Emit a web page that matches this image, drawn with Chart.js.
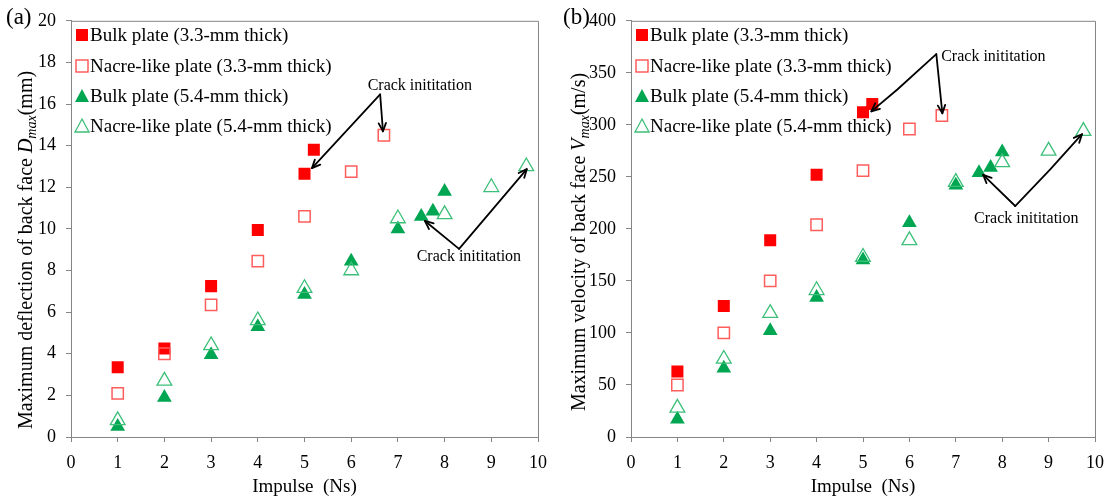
<!DOCTYPE html>
<html>
<head>
<meta charset="utf-8">
<script src="https://cdn.jsdelivr.net/npm/chart.js@4.4.1/dist/chart.umd.min.js"></script>
<style>
  html, body { margin: 0; padding: 0; background: #fff; }
  #wrap { position: relative; width: 1114px; height: 502px; }
  .panel { position: absolute; top: 0; width: 557px; height: 502px; }
</style>
</head>
<body>
<div id="wrap">
  <div class="panel" style="left:0"><canvas id="chartA"></canvas></div>
  <div class="panel" style="left:557px"><canvas id="chartB"></canvas></div>
</div>
<script>
// impulse (Ns) for each plate series
const impulseBulk33 = [1, 2, 3, 4, 5, 5.2];
const impulseNacre33 = [1, 2, 3, 4, 5, 6, 6.7];
const impulseBulk54 = [1, 2, 3, 4, 5, 6, 7, 7.5, 7.75, 8];
const impulseNacre54 = [1, 2, 3, 4, 5, 6, 7, 8, 9, 9.75];

// max back-face deflection (mm)
const deflBulk33 = [3.35, 4.25, 7.25, 9.95, 12.65, 13.8];
const deflNacre33 = [2.1, 4.0, 6.35, 8.45, 10.6, 12.75, 14.5];
const deflBulk54 = [0.5, 1.9, 3.95, 5.3, 6.85, 8.45, 10.0, 10.6, 10.85, 11.8];
const deflNacre54 = [0.8, 2.7, 4.4, 5.6, 7.15, 8.0, 10.5, 10.7, 12.0, 13.0];

// max back-face velocity (m/s)
const velBulk33 = [63, 126, 189, 252, 312, 320];
const velNacre33 = [50, 100, 150, 204, 256, 296, 309];
const velBulk54 = [17, 66, 102, 134, 170, 206, 242, 254, 259, 274];
const velNacre54 = [28, 75, 119, 141, 173, 189, 245, 264, 275, 294];

const seriesLabels = [
  'Bulk plate (3.3-mm thick)',
  'Nacre-like plate (3.3-mm thick)',
  'Bulk plate (5.4-mm thick)',
  'Nacre-like plate (5.4-mm thick)'
];

const noteText = 'Crack inititation';
// crack notes: label point, then arrow paths (from the fork to the head) in data units
const crackNotesDefl = [
  { at: [7.47, 16.9], paths: [[[6.62, 16.46], [5.16, 12.92]], [[6.62, 16.46], [6.68, 14.69]]] },
  { at: [8.52, 8.66], paths: [[[8.31, 9.04], [7.58, 10.38]], [[8.31, 9.04], [9.76, 12.87]]] }
];
const crackNotesVel = [
  { at: [7.81, 365], paths: [[[6.58, 368], [5.74, 334], [5.18, 313]], [[6.58, 368], [6.71, 311]]] },
  { at: [8.52, 210], paths: [[[8.28, 222], [7.59, 252]], [[8.28, 222], [9.03, 257], [9.72, 291]]] }
];

const RED = '#ff0000';
const RED_OPEN = '#ff5c5c';
const GREEN = '#00a651';
const GREEN_OPEN = '#3cbf78';
const AXIS_GREY = '#858585';
const INK = '#000';
const SERIF = '"Liberation Serif", "Times New Roman", serif';

function pts(xs, ys) {
  return xs.map((x, i) => ({ x: x, y: ys[i] }));
}

function buildDatasets(b33, n33, b54, n54) {
  return [
    { label: seriesLabels[0], data: pts(impulseBulk33, b33), pointStyle: 'rect', pointRadius: 8.5,
      backgroundColor: RED, borderColor: RED, borderWidth: 0, order: 4 },
    { label: seriesLabels[1], data: pts(impulseNacre33, n33), pointStyle: 'rect', pointRadius: 8,
      backgroundColor: 'rgba(0,0,0,0)', borderColor: RED_OPEN, borderWidth: 1.5, order: 3 },
    { label: seriesLabels[2], data: pts(impulseBulk54, b54), pointStyle: 'triangle', pointRadius: 8.5,
      backgroundColor: GREEN, borderColor: GREEN, borderWidth: 0, order: 2 },
    { label: seriesLabels[3], data: pts(impulseNacre54, n54), pointStyle: 'triangle', pointRadius: 8.5,
      backgroundColor: 'rgba(0,0,0,0)', borderColor: GREEN_OPEN, borderWidth: 1.3, order: 1 }
  ];
}

// legend drawn inside the plot, top-left
const innerLegend = {
  id: 'innerLegend',
  afterDraw(chart) {
    const { ctx, chartArea } = chart;
    const rows = [35, 66, 96, 126];
    ctx.save();
    ctx.font = '19px ' + SERIF;
    ctx.textBaseline = 'middle';
    chart.data.datasets.forEach((ds, i) => {
      const mx = chartArea.left + 11;
      const my = rows[i];
      ctx.beginPath();
      if (ds.pointStyle === 'rect') {
        ctx.rect(mx - 6, my - 6, 12, 12);
      } else {
        ctx.moveTo(mx, my - 7);
        ctx.lineTo(mx + 7, my + 6);
        ctx.lineTo(mx - 7, my + 6);
        ctx.closePath();
      }
      if (ds.borderWidth) {
        ctx.lineWidth = ds.borderWidth;
        ctx.strokeStyle = ds.borderColor;
        ctx.stroke();
      } else {
        ctx.fillStyle = ds.backgroundColor;
        ctx.fill();
      }
      ctx.fillStyle = INK;
      ctx.fillText(ds.label, chartArea.left + 19, my + 1);
    });
    ctx.restore();
  }
};

// grey frame on the top and right of the plot
const plotFrame = {
  id: 'plotFrame',
  beforeDatasetsDraw(chart) {
    const { ctx, chartArea: a } = chart;
    ctx.save();
    ctx.strokeStyle = AXIS_GREY;
    ctx.lineWidth = 1;
    ctx.beginPath();
    ctx.moveTo(a.left, a.top + 0.5);
    ctx.lineTo(a.right + 0.5, a.top + 0.5);
    ctx.lineTo(a.right + 0.5, a.bottom);
    ctx.stroke();
    ctx.restore();
  }
};

function arrowHead(ctx, x0, y0, x1, y1) {
  const ang = Math.atan2(y1 - y0, x1 - x0);
  const len = 9, spread = 0.42;
  ctx.beginPath();
  ctx.moveTo(x1 - len * Math.cos(ang - spread), y1 - len * Math.sin(ang - spread));
  ctx.lineTo(x1, y1);
  ctx.lineTo(x1 - len * Math.cos(ang + spread), y1 - len * Math.sin(ang + spread));
  ctx.stroke();
}

const crackArrows = {
  id: 'crackArrows',
  afterDatasetsDraw(chart, args, opts) {
    const { ctx, scales: { x, y } } = chart;
    ctx.save();
    ctx.strokeStyle = '#000';
    ctx.lineWidth = 1.8;
    ctx.lineCap = 'round';
    ctx.lineJoin = 'round';
    (opts.notes || []).forEach(n => {
      n.paths.forEach(p => {
        const px = p.map(q => [x.getPixelForValue(q[0]), y.getPixelForValue(q[1])]);
        ctx.beginPath();
        ctx.moveTo(px[0][0], px[0][1]);
        for (let i = 1; i < px.length; i++) ctx.lineTo(px[i][0], px[i][1]);
        ctx.stroke();
        const k = px.length - 1;
        arrowHead(ctx, px[k - 1][0], px[k - 1][1], px[k][0], px[k][1]);
      });
      ctx.fillStyle = INK;
      ctx.font = '16px ' + SERIF;
      ctx.textAlign = 'center';
      ctx.textBaseline = 'middle';
      ctx.fillText(noteText, x.getPixelForValue(n.at[0]), y.getPixelForValue(n.at[1]));
    });
    ctx.restore();
  }
};

// rotated y title with an italic symbol and subscript, plus the panel tag
const sideTitles = {
  id: 'sideTitles',
  afterDraw(chart, args, opts) {
    const { ctx } = chart;
    ctx.save();
    ctx.fillStyle = INK;
    ctx.textBaseline = 'middle';
    ctx.font = '23px ' + SERIF;
    ctx.fillText(opts.tag, 6, 18);

    const parts = opts.parts;
    let total = 0;
    parts.forEach(p => { ctx.font = p.font; p.w = ctx.measureText(p.text).width; total += p.w; });
    ctx.translate(opts.cx, opts.cy);
    ctx.rotate(-Math.PI / 2);
    let pos = -total / 2;
    parts.forEach(p => {
      ctx.font = p.font;
      ctx.fillText(p.text, pos, p.dy || 0);
      pos += p.w;
    });
    ctx.restore();
  }
};

function titleParts(before, sym, after) {
  return [
    { text: before, font: '20px ' + SERIF },
    { text: sym, font: 'italic 20px ' + SERIF },
    { text: 'max', font: 'italic 14px ' + SERIF, dy: 5 },
    { text: after, font: '20px ' + SERIF }
  ];
}

function makeChart(id, datasets, yMax, yStep, yWidth, padRight, notes, tag, parts, titleX, titleY) {
  return new Chart(document.getElementById(id), {
    type: 'scatter',
    data: { datasets: datasets },
    plugins: [plotFrame, crackArrows, innerLegend, sideTitles],
    options: {
      responsive: true,
      maintainAspectRatio: false,
      animation: false,
      layout: { padding: { top: 19, right: padRight, left: 0, bottom: 0 } },
      scales: {
        x: {
          type: 'linear', min: 0, max: 10,
          ticks: { stepSize: 1, color: INK, padding: 10, font: { family: SERIF, size: 18 } },
          grid: { drawOnChartArea: false, tickLength: 5, color: AXIS_GREY },
          border: { color: AXIS_GREY, width: 1 },
          title: { display: true, text: 'Impulse  (Ns)', color: INK,
                   font: { family: SERIF, size: 19 }, padding: { top: 0, bottom: 4 } },
          afterFit: s => { s.height = 65; }
        },
        y: {
          type: 'linear', min: 0, max: yMax,
          ticks: { stepSize: yStep, color: INK, padding: 10, font: { family: SERIF, size: 18 } },
          grid: { drawOnChartArea: false, tickLength: 5, color: AXIS_GREY },
          border: { color: AXIS_GREY, width: 1 },
          afterFit: s => { s.width = yWidth; }
        }
      },
      plugins: {
        legend: { display: false },
        tooltip: { enabled: false },
        crackArrows: { notes: notes },
        sideTitles: { tag: tag, parts: parts, cx: titleX, cy: titleY }
      }
    }
  });
}

makeChart('chartA', buildDatasets(deflBulk33, deflNacre33, deflBulk54, deflNacre54),
  20, 2, 71, 19, crackNotesDefl, '(a)',
  titleParts('Maximum deflection of back face ', 'D', '(mm)'), 27, 250);

makeChart('chartB', buildDatasets(velBulk33, velNacre33, velBulk54, velNacre54),
  400, 50, 74, 18, crackNotesVel, '(b)',
  titleParts('Maximum velocity of back face ', 'V', '(m/s)'), 23, 242);
</script>
</body>
</html>
